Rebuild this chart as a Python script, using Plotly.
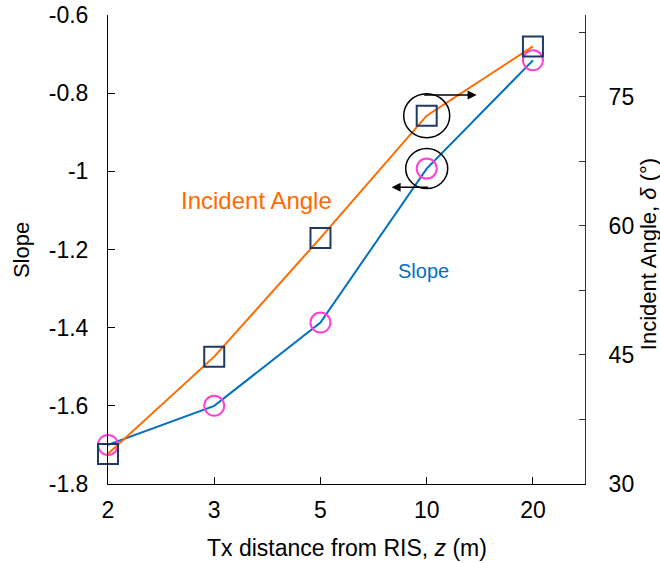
import plotly.graph_objects as go

# ---- data ----
distance_labels = ["2", "3", "5", "10", "20"]
x_pos = [0, 1, 2, 3, 4]
slope_values = [-1.70, -1.60, -1.387, -0.993, -0.716]
angle_values = [33.5, 44.8, 58.6, 72.8, 80.85]

slope_ticks = [-1.8, -1.6, -1.4, -1.2, -1.0, -0.8, -0.6]
slope_ticktext = ["-1.8", "-1.6", "-1.4", "-1.2", "-1", "-0.8", "-0.6"]
angle_ticks = [30, 37.5, 45, 52.5, 60, 67.5, 75, 82.5]
angle_ticktext = ["30", "", "45", "", "60", "", "75", ""]

ORANGE = "#ff6a00"
BLUE = "#0070c0"
NAVY = "#1f3864"
MAGENTA = "#ff3fd5"
FONT = "Liberation Sans, Arial, sans-serif"
TICK = 23

fig = go.Figure()

fig.add_trace(go.Scatter(
    x=x_pos, y=angle_values, yaxis="y2", mode="lines+markers",
    line=dict(color=ORANGE, width=2),
    marker=dict(symbol="square-open", size=20, color=NAVY, line=dict(width=2, color=NAVY)),
    cliponaxis=False, showlegend=False,
))
fig.add_trace(go.Scatter(
    x=x_pos, y=slope_values, yaxis="y", mode="lines+markers",
    line=dict(color=BLUE, width=2),
    marker=dict(symbol="circle-open", size=20, color=MAGENTA, line=dict(width=2, color=MAGENTA)),
    cliponaxis=False, showlegend=False,
))

# ellipses around the x=10 markers (anchored at the data points, size in px)
fig.add_shape(type="circle", xref="x", yref="y2", xsizemode="pixel", ysizemode="pixel",
              xanchor=x_pos[3], yanchor=angle_values[3],
              x0=-23, x1=23, y0=-22, y1=22, line=dict(color="black", width=1.5))
fig.add_shape(type="circle", xref="x", yref="y", xsizemode="pixel", ysizemode="pixel",
              xanchor=x_pos[3], yanchor=slope_values[3],
              x0=-21, x1=21, y0=-20, y1=20, line=dict(color="black", width=1.5))

# arrows
fig.add_annotation(x=3.47, y=75.2, xref="x", yref="y2", ax=-54, ay=0, axref="pixel", ayref="pixel",
                   showarrow=True, arrowhead=2, arrowsize=1.2, arrowwidth=1.5, arrowcolor="black", text="")
fig.add_annotation(x=2.67, y=-1.041, xref="x", yref="y", ax=38, ay=0, axref="pixel", ayref="pixel",
                   showarrow=True, arrowhead=2, arrowsize=1.2, arrowwidth=1.5, arrowcolor="black", text="")

# series labels
fig.add_annotation(x=1.398, y=-1.074, xref="x", yref="y", text="Incident Angle", showarrow=False,
                   xanchor="center", yanchor="middle",
                   font=dict(size=24, color=ORANGE, family=FONT))
fig.add_annotation(x=2.97, y=-1.256, xref="x", yref="y", text="Slope", showarrow=False,
                   xanchor="center", yanchor="middle",
                   font=dict(size=20, color=BLUE, family=FONT))

# axis titles
fig.add_annotation(x=-0.180, y=0.499, xref="paper", yref="paper", text="Slope", textangle=-90,
                   xanchor="center", yanchor="middle",
                   showarrow=False, font=dict(size=22, color="black", family=FONT))
fig.add_annotation(x=1.132, y=0.49, xref="paper", yref="paper", text="Incident Angle, <i>δ</i> (°)",
                   textangle=-90, xanchor="center", yanchor="middle",
                   showarrow=False, font=dict(size=22, color="black", family=FONT))
fig.add_annotation(x=0.501, y=-0.1365, xref="paper", yref="paper", text="Tx distance from RIS, <i>z</i> (m)",
                   xanchor="center", yanchor="middle",
                   showarrow=False, font=dict(size=23, color="black", family=FONT))

fig.update_layout(
    width=660, height=563,
    margin=dict(l=108, r=75, t=15, b=79, autoexpand=False),
    plot_bgcolor="white", paper_bgcolor="white",
    font=dict(family=FONT, size=TICK, color="black"),
    xaxis=dict(range=[0, 4.49], tickvals=x_pos, ticktext=distance_labels, automargin=False,
               ticks="inside", ticklen=7, tickcolor="black", showline=True, linecolor="black",
               linewidth=1, showgrid=False, zeroline=False, tickfont=dict(size=TICK),
               ticklabelstandoff=5, ticklabeloverflow="allow"),
    yaxis=dict(range=[-1.8, -0.6], tickvals=slope_ticks, ticktext=slope_ticktext, automargin=False,
               ticks="inside", ticklen=7, tickcolor="black", showline=True, linecolor="black",
               linewidth=1, showgrid=False, zeroline=False, tickfont=dict(size=TICK),
               ticklabelstandoff=14, ticklabeloverflow="allow"),
    yaxis2=dict(range=[30, 84.5], overlaying="y", side="right", tickvals=angle_ticks, automargin=False,
                ticktext=angle_ticktext, ticks="inside", ticklen=6, tickcolor="#333",
                showline=True, linecolor="#333", linewidth=1, showgrid=False, zeroline=False,
                tickfont=dict(size=TICK), ticklabelstandoff=18, ticklabeloverflow="allow"),
)

fig.write_html(
    "out.html",
    config={"displayModeBar": False},
    post_script="document.body.style.margin='0';document.documentElement.style.overflow='hidden';",
)
